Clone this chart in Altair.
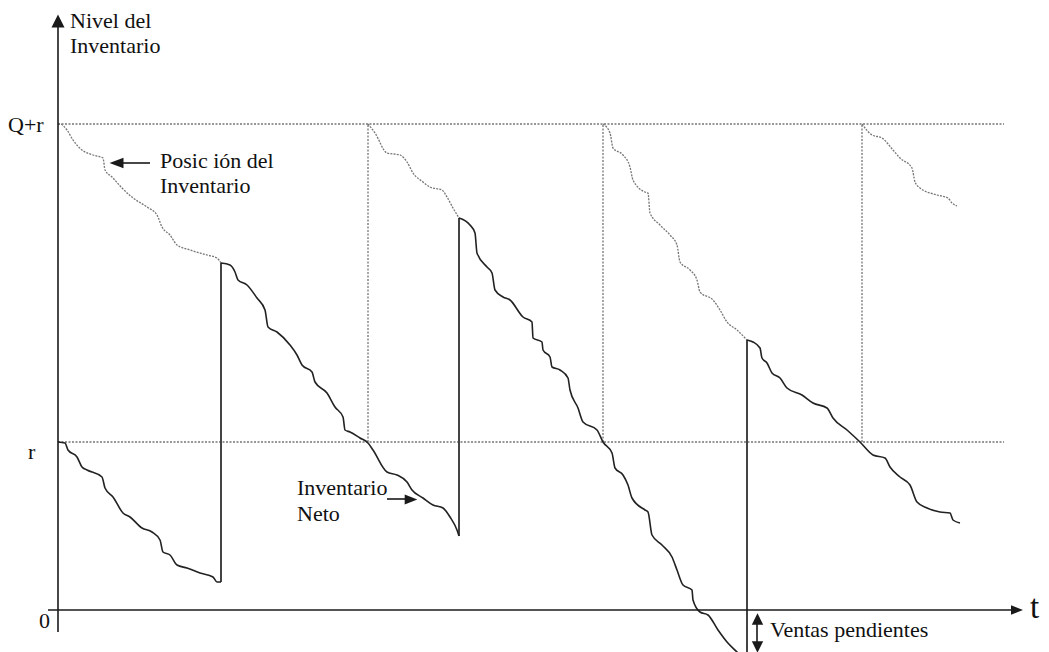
import altair as alt
import pandas as pd

# ---- values (t = time, level = inventory level) ----
R_LEVEL = 168      # r
QR_LEVEL = 486     # Q+r
T_END = 946        # end of the horizontal guide lines
ORDER_TIMES = [310, 545, 804]          # dotted verticals (order placed)

net_cycle_t = [
    [0, 7, 10, 19, 24, 29, 44, 47, 55, 65, 72, 84, 94, 102, 105, 112, 119, 129, 142, 155, 159, 163],
    [163, 172, 177, 180, 189, 199, 207, 210, 219, 232, 239, 244, 254, 257, 269, 277, 285, 287, 292, 302,
     310, 315, 329, 339, 349, 354, 365, 375, 385, 392, 399, 401],
    [401, 412, 417, 419, 429, 434, 437, 445, 452, 465, 474, 475, 484, 485, 492, 494, 502, 510, 512, 520,
     525, 539, 545, 554, 557, 565, 570, 574, 587, 590, 594, 604, 614, 619, 625, 634, 635, 642, 650, 660,
     669, 679, 687, 689],
    [689, 695, 702, 704, 709, 714, 722, 729, 744, 755, 769, 775, 789, 802, 815, 827, 832, 842, 852, 859,
     869, 882, 892, 895, 902],
]
net_cycle_level = [
    [168, 167, 160, 153, 143, 140, 133, 122, 113, 97, 93, 82, 78, 70, 58, 55, 45, 42, 37, 33, 28, 28],
    [347, 345, 338, 330, 325, 312, 300, 283, 278, 265, 255, 245, 238, 228, 217, 203, 193, 180, 178, 172,
     167, 160, 138, 135, 128, 120, 112, 105, 102, 93, 80, 74],
    [392, 385, 377, 357, 343, 337, 320, 313, 310, 293, 288, 272, 268, 260, 253, 243, 240, 232, 220, 202,
     188, 180, 168, 157, 142, 135, 125, 112, 100, 98, 75, 65, 53, 40, 25, 20, 10, -2, -5, -20,
     -32, -42, -50, -52],
    [270, 268, 262, 252, 247, 237, 232, 222, 215, 207, 202, 192, 180, 168, 155, 152, 143, 133, 125, 108,
     102, 98, 97, 90, 87],
]
# vertical jumps (order received)
jump_t = [163, 401, 689]
jump_low = [28, 74, -52]
jump_high = [347, 392, 270]

pos_seg_t = [
    [0, 2, 9, 15, 24, 35, 45, 47, 54, 64, 75, 89, 99, 104, 112, 119, 132, 149, 159, 163],
    [310, 317, 329, 342, 349, 355, 365, 372, 384, 389, 395, 401],
    [545, 552, 555, 565, 572, 575, 587, 590, 592, 602, 612, 619, 622, 632, 639, 642, 655, 662, 669, 679, 689],
    [804, 814, 824, 835, 842, 854, 857, 862, 879, 890, 894, 899],
]
pos_seg_level = [
    [486, 486, 480, 470, 460, 455, 452, 440, 433, 422, 412, 403, 395, 383, 375, 365, 360, 355, 352, 347],
    [486, 477, 457, 455, 448, 437, 428, 423, 420, 413, 402, 392],
    [486, 477, 462, 455, 443, 430, 418, 417, 397, 385, 375, 365, 348, 340, 330, 318, 310, 300, 288, 280, 270],
    [486, 475, 472, 460, 452, 442, 428, 422, 415, 412, 407, 404],
]

# labels (left edge t, baseline level)
label_text = ["Nivel del", "Inventario", "Q+r", "r", "0", "Posic ión del", "Inventario",
              "Inventario", "Neto", "Ventas pendientes"]
label_t = [12, 12, -50, -30, -19, 102, 102, 239, 239, 712]
label_level = [582, 557, 478, 151, -18, 442, 417, 115, 89, -27]
t_label = {"text": "t", "t": 972, "level": -8}

# axis lines
yaxis_t, yaxis_low, yaxis_high = 0, -22, 590
xaxis_level, xaxis_left, xaxis_right = 0, -10, 955

# arrows: shafts (horizontal) and heads
hshaft_t = [65, 329]
hshaft_t2 = [92, 348]
hshaft_level = [447, 111]
vshaft_t, vshaft_low, vshaft_high = 699, -40, -8

# ---- build tables ----
net_rows = []
for c, (ts, ls) in enumerate(zip(net_cycle_t, net_cycle_level)):
    for i, (t, l) in enumerate(zip(ts, ls)):
        net_rows.append({"cycle": c, "i": i, "t": t, "level": l})
net_df = pd.DataFrame(net_rows)

pos_rows = []
for c, (ts, ls) in enumerate(zip(pos_seg_t, pos_seg_level)):
    for i, (t, l) in enumerate(zip(ts, ls)):
        pos_rows.append({"seg": c, "i": i, "t": t, "level": l})
pos_df = pd.DataFrame(pos_rows)

jump_df = pd.DataFrame({"t": jump_t, "low": jump_low, "high": jump_high})
hguide_df = pd.DataFrame({"level": [QR_LEVEL, R_LEVEL], "t": [0, 0], "t2": [T_END, T_END]})
vguide_df = pd.DataFrame({"t": ORDER_TIMES, "low": [R_LEVEL] * 3, "high": [QR_LEVEL] * 3})
label_df = pd.DataFrame({"text": label_text, "t": label_t, "level": label_level})

W, H = 1033, 644
xs = alt.Scale(domain=[-50, 983], nice=False, zero=False)
ys = alt.Scale(domain=[-42, 602], nice=False, zero=False)

X = lambda f="t": alt.X(f"{f}:Q", scale=xs, axis=None)
Y = lambda f="level": alt.Y(f"{f}:Q", scale=ys, axis=None)

DOT = "#767676"
INK = "#1a1a1a"
FONT = "Liberation Serif"

hguides = alt.Chart(hguide_df).mark_rule(color=DOT, strokeWidth=1.3, strokeDash=[2, 1.5]).encode(
    x=X(), x2="t2:Q", y=Y())
vguides = alt.Chart(vguide_df).mark_rule(color=DOT, strokeWidth=1.3, strokeDash=[2, 1.5]).encode(
    x=X(), y=Y("low"), y2="high:Q")

pos_lines = alt.Chart(pos_df).mark_line(color=DOT, strokeWidth=1.3, strokeDash=[2, 1.2],
                                        interpolate="monotone").encode(
    x=X(), y=Y(), detail="seg:N", order="i:Q")

net_lines = alt.Chart(net_df).mark_line(color="#222222", strokeWidth=1.6,
                                        interpolate="monotone").encode(
    x=X(), y=Y(), detail="cycle:N", order="i:Q")

jumps = alt.Chart(jump_df).mark_rule(color="#444444", strokeWidth=2).encode(
    x=X(), y=Y("low"), y2="high:Q")

axis_df = pd.DataFrame({"t": [yaxis_t], "low": [yaxis_low], "high": [yaxis_high],
                        "level": [xaxis_level], "left": [xaxis_left], "right": [xaxis_right]})
yaxis = alt.Chart(axis_df).mark_rule(color=INK, strokeWidth=1.6).encode(
    x=X(), y=Y("low"), y2="high:Q")
xaxis = alt.Chart(axis_df).mark_rule(color=INK, strokeWidth=1.6).encode(
    x=X("left"), x2="right:Q", y=Y())

hshaft_df = pd.DataFrame({"t": hshaft_t, "t2": hshaft_t2, "level": hshaft_level})
hshafts = alt.Chart(hshaft_df).mark_rule(color=INK, strokeWidth=1.6).encode(
    x=X(), x2="t2:Q", y=Y())
vshaft_df = pd.DataFrame({"t": [vshaft_t], "low": [vshaft_low], "high": [vshaft_high]})
vshaft = alt.Chart(vshaft_df).mark_rule(color=INK, strokeWidth=1.6).encode(
    x=X(), y=Y("low"), y2="high:Q")

UP = "M0,-1L1,1L-1,1Z"
DOWN = "M0,1L1,-1L-1,-1Z"
RIGHT = "M1,0L-1,-0.8L-1,0.8Z"
LEFT = "M-1,0L1,-0.75L1,0.75Z"

def head(t, level, shape, size):
    return alt.Chart(pd.DataFrame({"t": [t], "level": [level]})).mark_point(
        shape=shape, size=size, filled=True, color=INK, opacity=1, strokeWidth=0).encode(x=X(), y=Y())

heads = [
    head(0, 589, UP, 169),          # y axis
    head(959, 0, RIGHT, 144),       # x axis
    head(58.5, 447, LEFT, 196),     # Posición arrow
    head(353, 110.5, RIGHT, 160),   # Neto arrow
    head(699.5, -9, UP, 130),       # Ventas pendientes (up)
    head(699.5, -37, DOWN, 130),    # Ventas pendientes (down)
]

labels = alt.Chart(label_df).mark_text(font=FONT, fontSize=22, align="left", baseline="alphabetic",
                                       color="#111111").encode(x=X(), y=Y(), text="text:N")
tlab = alt.Chart(pd.DataFrame([t_label])).mark_text(font=FONT, fontSize=33, align="left",
                                                    baseline="alphabetic", color="#111111").encode(
    x=X(), y=Y(), text="text:N")

chart = alt.layer(hguides, vguides, pos_lines, jumps, net_lines, yaxis, xaxis, hshafts, vshaft,
                  *heads, labels, tlab).properties(
    width=W, height=H, padding=0, autosize="none", background="white"
).configure_view(stroke=None)

chart.save("out.html", embed_options={"renderer": "svg", "actions": False})
